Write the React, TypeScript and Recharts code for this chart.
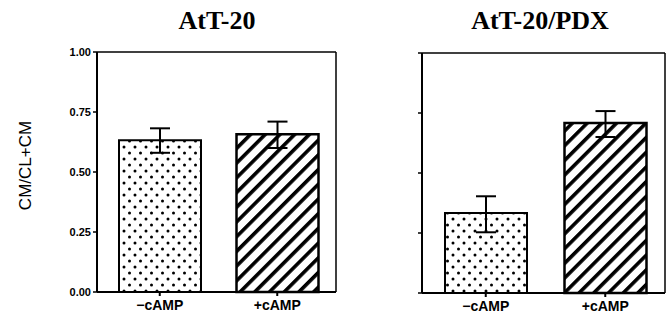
import React from 'react';
import { BarChart, Bar, XAxis, YAxis, ErrorBar, Cell } from 'recharts';

const categories = ['−cAMP', '+cAMP'];
const att20Values = [0.632, 0.657];
const att20Err: [number, number][] = [[0.052, 0.05], [0.057, 0.053]];
const pdxValues = [0.333, 0.708];
const pdxErr: [number, number][] = [[0.08, 0.07], [0.058, 0.05]];
const yTicks = [0, 0.25, 0.5, 0.75, 1];
const titles = ['AtT-20', 'AtT-20/PDX'];
const yLabel = 'CM/CL+CM';

const build = (vals: number[], errs: [number, number][]) =>
  categories.map((name, i) => ({ name, value: vals[i], err: errs[i] }));

const att20Data = build(att20Values, att20Err);
const pdxData = build(pdxValues, pdxErr);

const sans = '"Liberation Sans", Arial, sans-serif';

function Patterns({ id }: { id: string }) {
  return (
    <defs>
      <pattern id={`dots-${id}`} patternUnits="userSpaceOnUse" width="11" height="12">
        <rect width="11" height="12" fill="#fff" />
        <circle cx="3" cy="3" r="1.5" fill="#000" />
        <circle cx="8.5" cy="9" r="1.5" fill="#000" />
      </pattern>
      <pattern id={`stripes-${id}`} patternUnits="userSpaceOnUse" width="10.4" height="10.4" patternTransform="rotate(45)">
        <rect width="10.4" height="10.4" fill="#fff" />
        <rect x="0" y="0" width="3.6" height="10.4" fill="#000" />
      </pattern>
    </defs>
  );
}

function Panel({ id, data, width, margin, showLabels, xHeight }: any) {
  return (
    <BarChart width={width} height={322} data={data} margin={margin}>
      <Patterns id={id} />
      <XAxis
        dataKey="name"
        height={xHeight}
        padding={{ left: 4, right: 0 }}
        tickSize={4}
        tickMargin={4}
        axisLine={{ stroke: '#000', strokeWidth: 2 }}
        tickLine={{ stroke: '#000', strokeWidth: 2 }}
        tick={{ fontSize: 14, fontWeight: 'bold', fill: '#000', fontFamily: sans }}
      />
      <XAxis xAxisId="top" dataKey="name" orientation="top" height={1} tick={false} tickLine={false}
        axisLine={{ stroke: '#000', strokeWidth: 1.5 }} />
      <YAxis
        width={60}
        domain={[0, 1]}
        ticks={yTicks}
        type="number"
        tickSize={4}
        tickMargin={2}
        interval={0}
        tickFormatter={(v: number) => (showLabels ? v.toFixed(2) : '')}
        axisLine={{ stroke: '#000', strokeWidth: 2 }}
        tickLine={{ stroke: '#000', strokeWidth: 1.5 }}
        tick={{ fontSize: 11, fontWeight: 'bold', fill: '#000', fontFamily: sans }}
      />
      <YAxis yAxisId="right" orientation="right" width={1} domain={[0, 1]} ticks={yTicks} type="number"
        tick={false} tickLine={false} axisLine={{ stroke: '#000', strokeWidth: 1.5 }} />
      <Bar dataKey="value" barSize={82} isAnimationActive={false} stroke="#000" strokeWidth={2}>
        {data.map((_: any, i: number) => (
          <Cell key={i} fill={i === 0 ? `url(#dots-${id})` : `url(#stripes-${id})`} stroke="#000"
            strokeWidth={i === 0 ? 2 : 2.5} />
        ))}
        <ErrorBar dataKey="err" width={10} stroke="#000" strokeWidth={2} />
      </Bar>
    </BarChart>
  );
}

export default function App() {
  const titleStyle: React.CSSProperties = {
    position: 'absolute', top: 8, width: 200, textAlign: 'center',
    fontFamily: '"Liberation Serif", "Times New Roman", serif', fontWeight: 'bold',
    fontSize: 26, lineHeight: '26px', color: '#000',
  };
  return (
    <div style={{ position: 'absolute', left: 0, top: 0, width: 671, height: 322, background: '#fff', overflow: 'hidden' }}>
      <div style={{ position: 'absolute', left: 0, top: 0 }}>
        <Panel id="a" data={att20Data} width={340} margin={{ top: 51, right: 3, bottom: 0, left: 37 }} showLabels xHeight={30} />
      </div>
      <div style={{ position: 'absolute', left: 340, top: 0 }}>
        <Panel id="b" data={pdxData} width={331} margin={{ top: 52, right: 5, bottom: 0, left: 22 }} showLabels={false} xHeight={29} />
      </div>
      <div style={{ ...titleStyle, left: 117 }}>{titles[0]}</div>
      <div style={{ ...titleStyle, left: 440 }}>{titles[1]}</div>
      <div style={{
        position: 'absolute', left: 25 - 60, top: 165 - 8, width: 120, height: 17, lineHeight: '17px',
        textAlign: 'center', transform: 'rotate(-90deg)', fontFamily: sans, fontSize: 17, color: '#000',
      }}>{yLabel}</div>
    </div>
  );
}
